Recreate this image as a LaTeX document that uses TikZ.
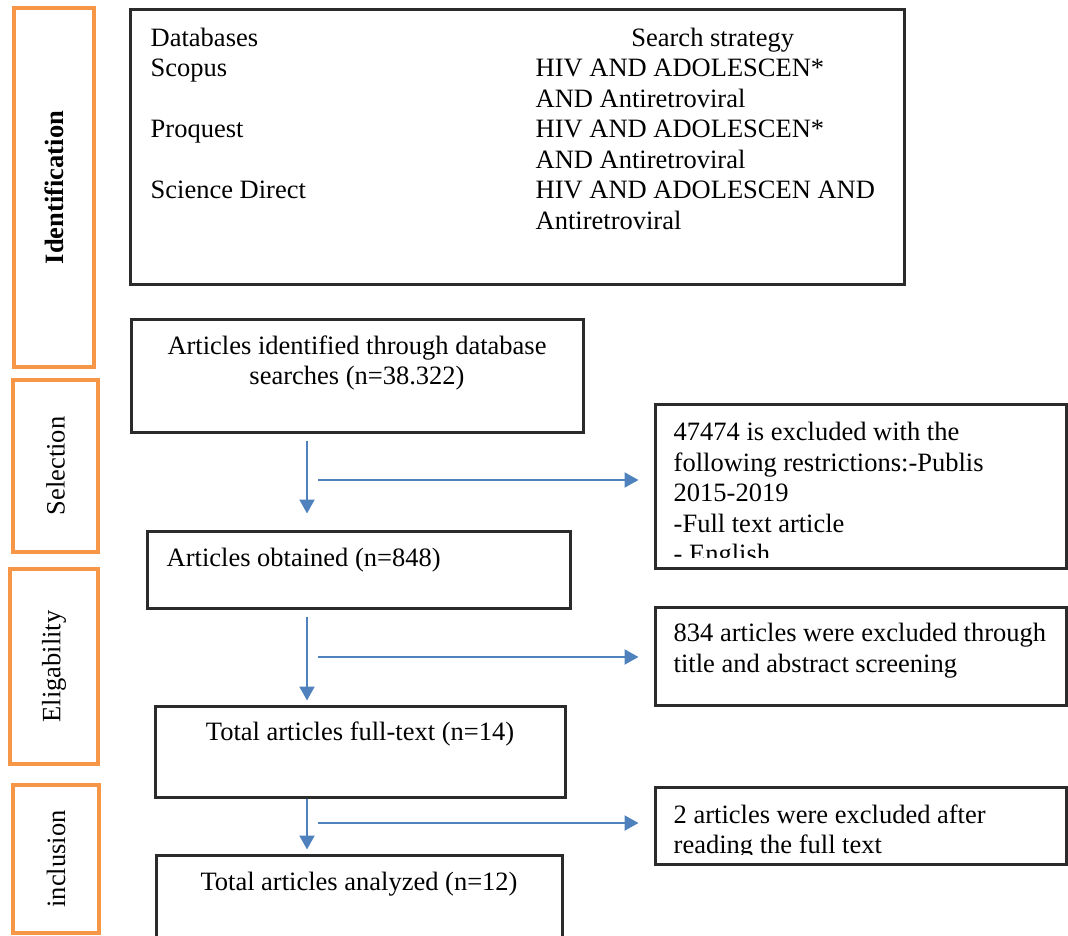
\documentclass[tikz,border=0pt]{standalone}
\usepackage{fontspec}
\setmainfont{Liberation Serif}
\usetikzlibrary{arrows.meta}
\definecolor{labelorange}{HTML}{F79646}
\definecolor{flowblue}{HTML}{4F81BD}
\definecolor{boxgrey}{HTML}{2B2B2B}

\begin{document}
\begin{tikzpicture}[x=1pt,y=-1pt,
  every node/.style={font=\fontsize{26.5}{30.5}\selectfont},
  stage/.style={draw=labelorange, line width=4pt, inner sep=0pt, rotate=90},
  box/.style={draw=boxgrey, line width=3pt, inner sep=0pt},
  txt/.style={inner sep=0pt, anchor=north},
  flow/.style={draw=flowblue, line width=2.2pt, -{Triangle[width=15pt,length=14pt]}}
]
  \useasboundingbox (0,0) rectangle (1068,936);

  % stages on the left
  \node[stage, minimum width=359pt, minimum height=80pt] (identlab) at (54,187.5) {\bfseries Identification};
  \node[stage, minimum width=172pt, minimum height=85pt] (selectlab) at (55.5,466) {Selection};
  \node[stage, minimum width=195pt, minimum height=88pt] (eliglab) at (54,666.5) {Eligability};
  \node[stage, minimum width=148pt, minimum height=86pt] (incllab) at (56,859) {inclusion};

  % main column
  \node[box, minimum width=774pt, minimum height=274pt] (dbbox) at (517,147) {};
  \node[box, minimum width=452pt, minimum height=113pt] (idbox) at (357,375.5) {};
  \node[box, minimum width=423pt, minimum height=77pt] (obtbox) at (358.5,569.5) {};
  \node[box, minimum width=410pt, minimum height=91pt] (fullbox) at (360,751.5) {};
  \node[box, minimum width=406pt, minimum height=90pt] (anabox) at (359,900) {};

  % excluded
  \node[box, minimum width=411pt, minimum height=164pt] (ex1box) at (860.5,486) {};
  \node[box, minimum width=411pt, minimum height=98pt] (ex2box) at (860.5,656) {};
  \node[box, minimum width=411pt, minimum height=77pt] (ex3box) at (860.5,825.5) {};

  \node[txt, anchor=north west] (dbtext) at ([xshift=22pt,yshift=-16pt]dbbox.north west) {%
    \begin{tabular}{@{}p{385pt}@{}p{354pt}@{}}
      Databases & \multicolumn{1}{c}{Search strategy} \\
      Scopus & HIV AND ADOLESCEN* \\
       & AND Antiretroviral \\
      Proquest & HIV AND ADOLESCEN* \\
       & AND Antiretroviral \\
      Science Direct & HIV AND ADOLESCEN AND \\
       & Antiretroviral \\
    \end{tabular}};
  \node[txt, align=center] (idtext) at ([yshift=-18pt]idbox.north) {Articles identified through database\\ searches (n=38.322)};
  \node[txt, anchor=north west] (obttext) at ([xshift=21pt,yshift=-18.5pt]obtbox.north west) {Articles obtained (n=848)};
  \node[txt] (fulltext) at ([yshift=-17.5pt]fullbox.north) {Total articles full-text (n=14)};
  \node[txt] (anatext) at ([yshift=-18.5pt]anabox.north) {Total articles analyzed (n=12)};

  \begin{scope}
    \clip (ex1box.north west) rectangle ([yshift=12pt]ex1box.south east);
    \node[txt, anchor=north west, align=left] (ex1text) at ([xshift=20pt,yshift=-19.5pt]ex1box.north west)
      {47474 is excluded with the\\ following restrictions:-Publis\\ 2015-2019\\ -Full text article\\ - English};
  \end{scope}
  \node[txt, anchor=north west, align=left] (ex2text) at ([xshift=20pt,yshift=-17.5pt]ex2box.north west)
    {834 articles were excluded through\\ title and abstract screening};
  \begin{scope}
    \clip (ex2box.south west) rectangle ([yshift=11pt]ex3box.south east);
    \node[txt, anchor=north west, align=left] (ex3text) at ([xshift=20pt,yshift=-19pt]ex3box.north west)
      {2 articles were excluded after\\ reading the full text};
  \end{scope}

  % arrows
  \coordinate (flowx) at (307,0);
  \draw[flow, shorten <=7pt, shorten >=16pt] (idbox.south -| flowx) -- (obtbox.north -| flowx);
  \draw[flow, shorten <=7pt, shorten >=4pt] (obtbox.south -| flowx) -- (fullbox.north -| flowx);
  \draw[flow, shorten >=4pt] (fullbox.south -| flowx) -- (anabox.north -| flowx);

  \coordinate (cut1) at (318,480);
  \coordinate (cut2) at (318,657);
  \coordinate (cut3) at (318,823);
  \draw[flow, shorten >=15pt] (cut1) -- (cut1 -| ex1box.west);
  \draw[flow, shorten >=15pt] (cut2) -- (cut2 -| ex2box.west);
  \draw[flow, shorten >=15pt] (cut3) -- (cut3 -| ex3box.west);
\end{tikzpicture}
\end{document}
